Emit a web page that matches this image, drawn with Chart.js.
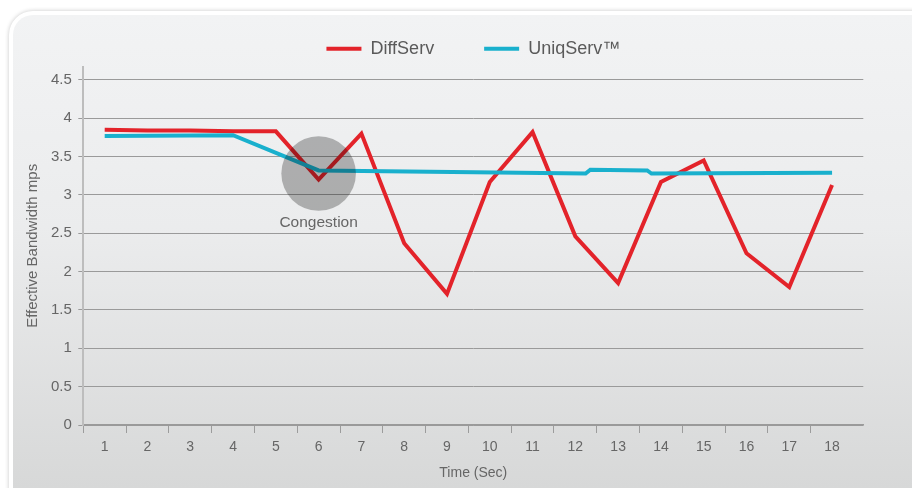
<!DOCTYPE html>
<html>
<head>
<meta charset="utf-8">
<script src="https://cdn.jsdelivr.net/npm/chart.js@4/dist/chart.umd.min.js"></script>
<style>
  html, body { margin: 0; padding: 0; background: #fff; }
  #wrap { position: relative; width: 912px; height: 488px; }
  canvas { position: absolute; left: 0; top: 0; }
</style>
</head>
<body>
<div id="wrap"><canvas id="c" width="912" height="488"></canvas></div>
<script>
// ---- data ----
const timeLabels = ['1','2','3','4','5','6','7','8','9','10','11','12','13','14','15','16','17','18'];
const time = [1,2,3,4,5,6,7,8,9,10,11,12,13,14,15,16,17,18];
const diffServ = [3.85, 3.84, 3.84, 3.83, 3.83, 3.20, 3.80, 2.37, 1.71, 3.17, 3.82, 2.46, 1.85, 3.17, 3.45, 2.24, 1.80, 3.13];
const uniqTime = [1, 4, 6, 12.24, 12.35, 13.68, 13.78, 18];
const uniqServ = [3.77, 3.78, 3.32, 3.28, 3.33, 3.32, 3.28, 3.29];
const seriesNames = ['DiffServ', 'UniqServ\u2122'];
const yTicks = [0, 0.5, 1, 1.5, 2, 2.5, 3, 3.5, 4, 4.5];
const yTickLabels = ['0', '0.5', '1', '1.5', '2', '2.5', '3', '3.5', '4', '4.5'];
const congestionLabel = 'Congestion';
const congestionTime = 6;
const congestionValue = 3.28;

const FONT = "'Liberation Sans', Arial, Helvetica, sans-serif";

function roundRectPath(ctx, x, y, w, h, r) {
  ctx.beginPath();
  ctx.moveTo(x + r, y);
  ctx.lineTo(x + w - r, y);
  ctx.arcTo(x + w, y, x + w, y + r, r);
  ctx.lineTo(x + w, y + h - r);
  ctx.arcTo(x + w, y + h, x + w - r, y + h, r);
  ctx.lineTo(x + r, y + h);
  ctx.arcTo(x, y + h, x, y + h - r, r);
  ctx.lineTo(x, y + r);
  ctx.arcTo(x, y, x + r, y, r);
  ctx.closePath();
}

const panelPlugin = {
  id: 'panel',
  beforeDraw(chart) {
    const ctx = chart.ctx;
    ctx.save();
    ctx.fillStyle = '#ffffff';
    ctx.fillRect(0, 0, chart.width, chart.height);
    ctx.shadowColor = 'rgba(0,0,0,0.22)';
    ctx.shadowBlur = 4;
    roundRectPath(ctx, 9, 11, 1000, 600, 24);
    ctx.fillStyle = '#ffffff';
    ctx.fill();
    ctx.shadowColor = 'transparent';
    ctx.shadowBlur = 0;
    const g = ctx.createLinearGradient(0, 15, 0, 488);
    g.addColorStop(0, '#f2f3f4');
    g.addColorStop(0.45, '#ebeced');
    g.addColorStop(1, '#d7d8d8');
    roundRectPath(ctx, 13, 15, 1000, 600, 20);
    ctx.fillStyle = g;
    ctx.fill();
    ctx.restore();
  }
};

const congestionPlugin = {
  id: 'congestion',
  afterDatasetsDraw(chart) {
    const ctx = chart.ctx;
    const xs = chart.scales.x, ys = chart.scales.y;
    const cx = xs.getPixelForValue(congestionTime);
    const cy = ys.getPixelForValue(congestionValue);
    ctx.save();
    ctx.globalCompositeOperation = 'multiply';
    ctx.fillStyle = 'rgb(186,186,186)';
    ctx.beginPath();
    ctx.arc(cx, cy, 37.3, 0, Math.PI * 2);
    ctx.fill();
    ctx.restore();
    ctx.save();
    ctx.fillStyle = '#666666';
    ctx.font = '15.5px ' + FONT;
    ctx.textAlign = 'center';
    ctx.textBaseline = 'middle';
    ctx.fillText(congestionLabel, cx, cy + 49);
    ctx.restore();
  }
};

new Chart(document.getElementById('c'), {
  type: 'line',
  data: {
    datasets: [
      {
        label: seriesNames[0],
        data: time.map((t, i) => ({ x: t, y: diffServ[i] })),
        borderColor: '#e3232a',
        backgroundColor: '#e3232a',
        borderWidth: 4,
        pointRadius: 0,
        tension: 0,
        order: 1
      },
      {
        label: seriesNames[1],
        data: uniqTime.map((t, i) => ({ x: t, y: uniqServ[i] })),
        borderColor: '#19b0cd',
        backgroundColor: '#19b0cd',
        borderWidth: 4,
        pointRadius: 0,
        tension: 0,
        order: 0
      }
    ]
  },
  options: {
    responsive: false,
    animation: false,
    devicePixelRatio: 1,
    layout: { padding: { top: -10.3, right: 48.7, bottom: 0, left: 0 } },
    plugins: {
      tooltip: { enabled: false },
      legend: {
        display: true,
        position: 'top',
        fullSize: false,
        maxHeight: 77,
        labels: {
          boxWidth: 35,
          boxHeight: 4,
          padding: 50,
          color: '#5a5a5a',
          font: { family: FONT, size: 18 },
          generateLabels(chart) {
            const items = Chart.defaults.plugins.legend.labels.generateLabels(chart);
            items.sort((a, b) => a.datasetIndex - b.datasetIndex);
            items.forEach(it => { it.fillStyle = it.strokeStyle; it.lineWidth = 0; });
            return items;
          }
        }
      }
    },
    scales: {
      x: {
        type: 'linear',
        min: 0.5,
        max: 18.73,
        afterBuildTicks(scale) { scale.ticks = time.map(v => ({ value: v })); },
        afterFit(scale) { scale.height = 63; },
        ticks: {
          autoSkip: false,
          maxRotation: 0,
          padding: 5.6,
          color: '#666666',
          font: { family: FONT, size: 14 },
          callback: (v, i) => timeLabels[i]
        },
        grid: {
          offset: true,
          drawOnChartArea: false,
          drawTicks: true,
          tickLength: 8,
          tickWidth: 1,
          tickColor: (ctx) => ctx.type === 'tick' ? '#9c9c9c' : 'rgba(0,0,0,0)'
        },
        border: { display: true, color: '#9a9a9a', width: 1.5 },
        title: {
          display: true,
          text: 'Time (Sec)',
          color: '#666666',
          font: { family: FONT, size: 14 },
          padding: { top: 0, bottom: 6.6 }
        }
      },
      y: {
        type: 'linear',
        min: 0,
        max: 4.673,
        afterBuildTicks(scale) { scale.ticks = yTicks.map(v => ({ value: v })); },
        afterFit(scale) { scale.width = 83.3; },
        ticks: {
          padding: 6.5,
          color: '#666666',
          font: { family: FONT, size: 15 },
          callback: (v, i) => yTickLabels[i]
        },
        grid: {
          color: '#9a9a9a',
          lineWidth: 1,
          drawTicks: true,
          tickLength: 5,
          tickColor: '#9a9a9a'
        },
        border: { display: true, color: '#bdbdbd', width: 2 },
        title: {
          display: true,
          text: 'Effective Bandwidth mps',
          color: '#666666',
          font: { family: FONT, size: 15 },
          padding: { top: 23.5, bottom: 0 }
        }
      }
    }
  },
  plugins: [panelPlugin, congestionPlugin]
});
</script>
</body>
</html>
